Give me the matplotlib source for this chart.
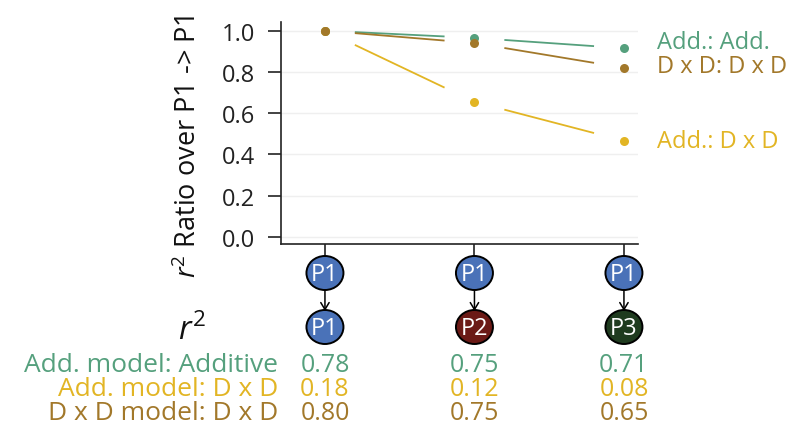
import matplotlib
matplotlib.use("Agg")
import matplotlib.pyplot as plt
import matplotlib.transforms as mtransforms
from matplotlib.patches import Ellipse, FancyArrowPatch

# ---------------- data ----------------
positions = [1, 2, 3]
series_names = ["Add.: Add.", "Add.: D x D", "D x D: D x D"]
ratio_add_add = [1.0, 0.965, 0.915]
ratio_add_dxd = [1.0, 0.655, 0.466]
ratio_dxd_dxd = [1.0, 0.940, 0.820]
top_nodes = ["P1", "P1", "P1"]
bottom_nodes = ["P1", "P2", "P3"]
row_labels = ["Add. model: Additive", "Add. model: D x D", "D x D model: D x D"]
r2_add_add = ["0.78", "0.75", "0.71"]
r2_add_dxd = ["0.18", "0.12", "0.08"]
r2_dxd_dxd = ["0.80", "0.75", "0.65"]
yticks = [0.0, 0.2, 0.4, 0.6, 0.8, 1.0]

# ---------------- style ----------------
GREEN = "#55a07d"
YELLOW = "#e2b524"
BROWN = "#a2782a"
colors = [GREEN, YELLOW, BROWN]
node_colors = {"P1": "#4a72b8", "P2": "#6b1a16", "P3": "#1f3b1f"}

FONT = "Open Sans"
plt.rcParams["font.family"] = [FONT, "DejaVu Sans"]
plt.rcParams["mathtext.fontset"] = "custom"
plt.rcParams["mathtext.rm"] = FONT
plt.rcParams["mathtext.it"] = FONT + ":italic"

W, H = 789, 427
fig = plt.figure(figsize=(W / 100, H / 100), dpi=100)

def fy(y):
    return 1 - y / H

ax = fig.add_axes([281 / W, fy(245), (638 - 281) / W, (245 - 23) / H])
ax.set_xlim(0.706, 3.094)
ax.set_ylim(-0.034, 1.042)

series = [ratio_add_add, ratio_add_dxd, ratio_dxd_dxd]
# shortened connecting segments
for vals, c in zip(series, colors):
    for i in range(len(positions) - 1):
        x0, x1 = positions[i], positions[i + 1]
        y0, y1 = vals[i], vals[i + 1]
        f0, f1 = 0.2, 0.8
        ax.plot([x0 + (x1 - x0) * f0, x0 + (x1 - x0) * f1],
                [y0 + (y1 - y0) * f0, y0 + (y1 - y0) * f1],
                color=c, lw=1.3, solid_capstyle="butt", zorder=2)
for vals, c in zip(series, colors):
    ax.plot(positions, vals, "o", color=c, ms=6.5, mec="none", zorder=3)

ax.set_yticks(yticks)
ax.set_yticklabels([f"{v:.1f}" for v in yticks])
ax.set_xticks(positions)
ax.set_xticklabels([])
ax.tick_params(axis="y", length=9.4, width=1.2, labelsize=17, pad=9, colors="#222222")
ax.tick_params(axis="x", length=9.4, width=1.2, colors="#222222")
for s in ["top", "right"]:
    ax.spines[s].set_visible(False)
for s in ["left", "bottom"]:
    ax.spines[s].set_linewidth(1.2)
    ax.spines[s].set_color("#222222")
ax.yaxis.grid(True, color="#efefef", lw=1)
ax.set_axisbelow(True)

# right-side series labels
label_y = {"Add.: Add.": 43, "D x D: D x D": 67, "Add.: D x D": 142}
for name, c in zip(series_names, colors):
    fig.text(657 / W, fy(label_y[name]), name, color=c, fontsize=17,
             ha="left", va="center")

# y label
fig.text(189 / W, fy(278), r"$r^2$ Ratio over P1 -> P1", rotation=90,
         ha="center", va="bottom", fontsize=19.5, color="#111111")

# nodes below the axis
bt = mtransforms.blended_transform_factory(ax.transData, fig.transFigure)
px_per_unit = (638 - 281) / (3.094 - 0.706)
ew = 37 / px_per_unit
eh = 34 / H
top_c, bot_c = 274, 328
for x, tn, bn in zip(positions, top_nodes, bottom_nodes):
    for yc, name in [(top_c, tn), (bot_c, bn)]:
        e = Ellipse((x, fy(yc)), ew, eh, transform=bt, facecolor=node_colors[name],
                    edgecolor="black", lw=1.4, clip_on=False, zorder=5)
        fig.add_artist(e)
        fig.text(x, fy(yc + 1), name, transform=bt, color="white", fontsize=17,
                 ha="center", va="center", zorder=6)
    arr = FancyArrowPatch((x, fy(top_c + 17)), (x, fy(bot_c - 16)), transform=bt,
                          arrowstyle="->,head_length=5,head_width=3", color="black",
                          lw=1.1, mutation_scale=1, shrinkA=0, shrinkB=0)
    fig.add_artist(arr)

# r^2 table
fig.text(206 / W, fy(331), r"$r^2$", ha="right", va="center", fontsize=23, color="#111111")
rows = [r2_add_add, r2_add_dxd, r2_dxd_dxd]
row_y = [365.5, 390, 414]
for lab, vals, c, yy in zip(row_labels, rows, colors, row_y):
    fig.text(278 / W, fy(yy), lab, color=c, fontsize=19, ha="right", va="center")
    for x, v in zip(positions, vals):
        fig.text(x, fy(yy), v, transform=bt, color=c, fontsize=18,
                 ha="center", va="center")

fig.savefig("out.png", dpi=100)
